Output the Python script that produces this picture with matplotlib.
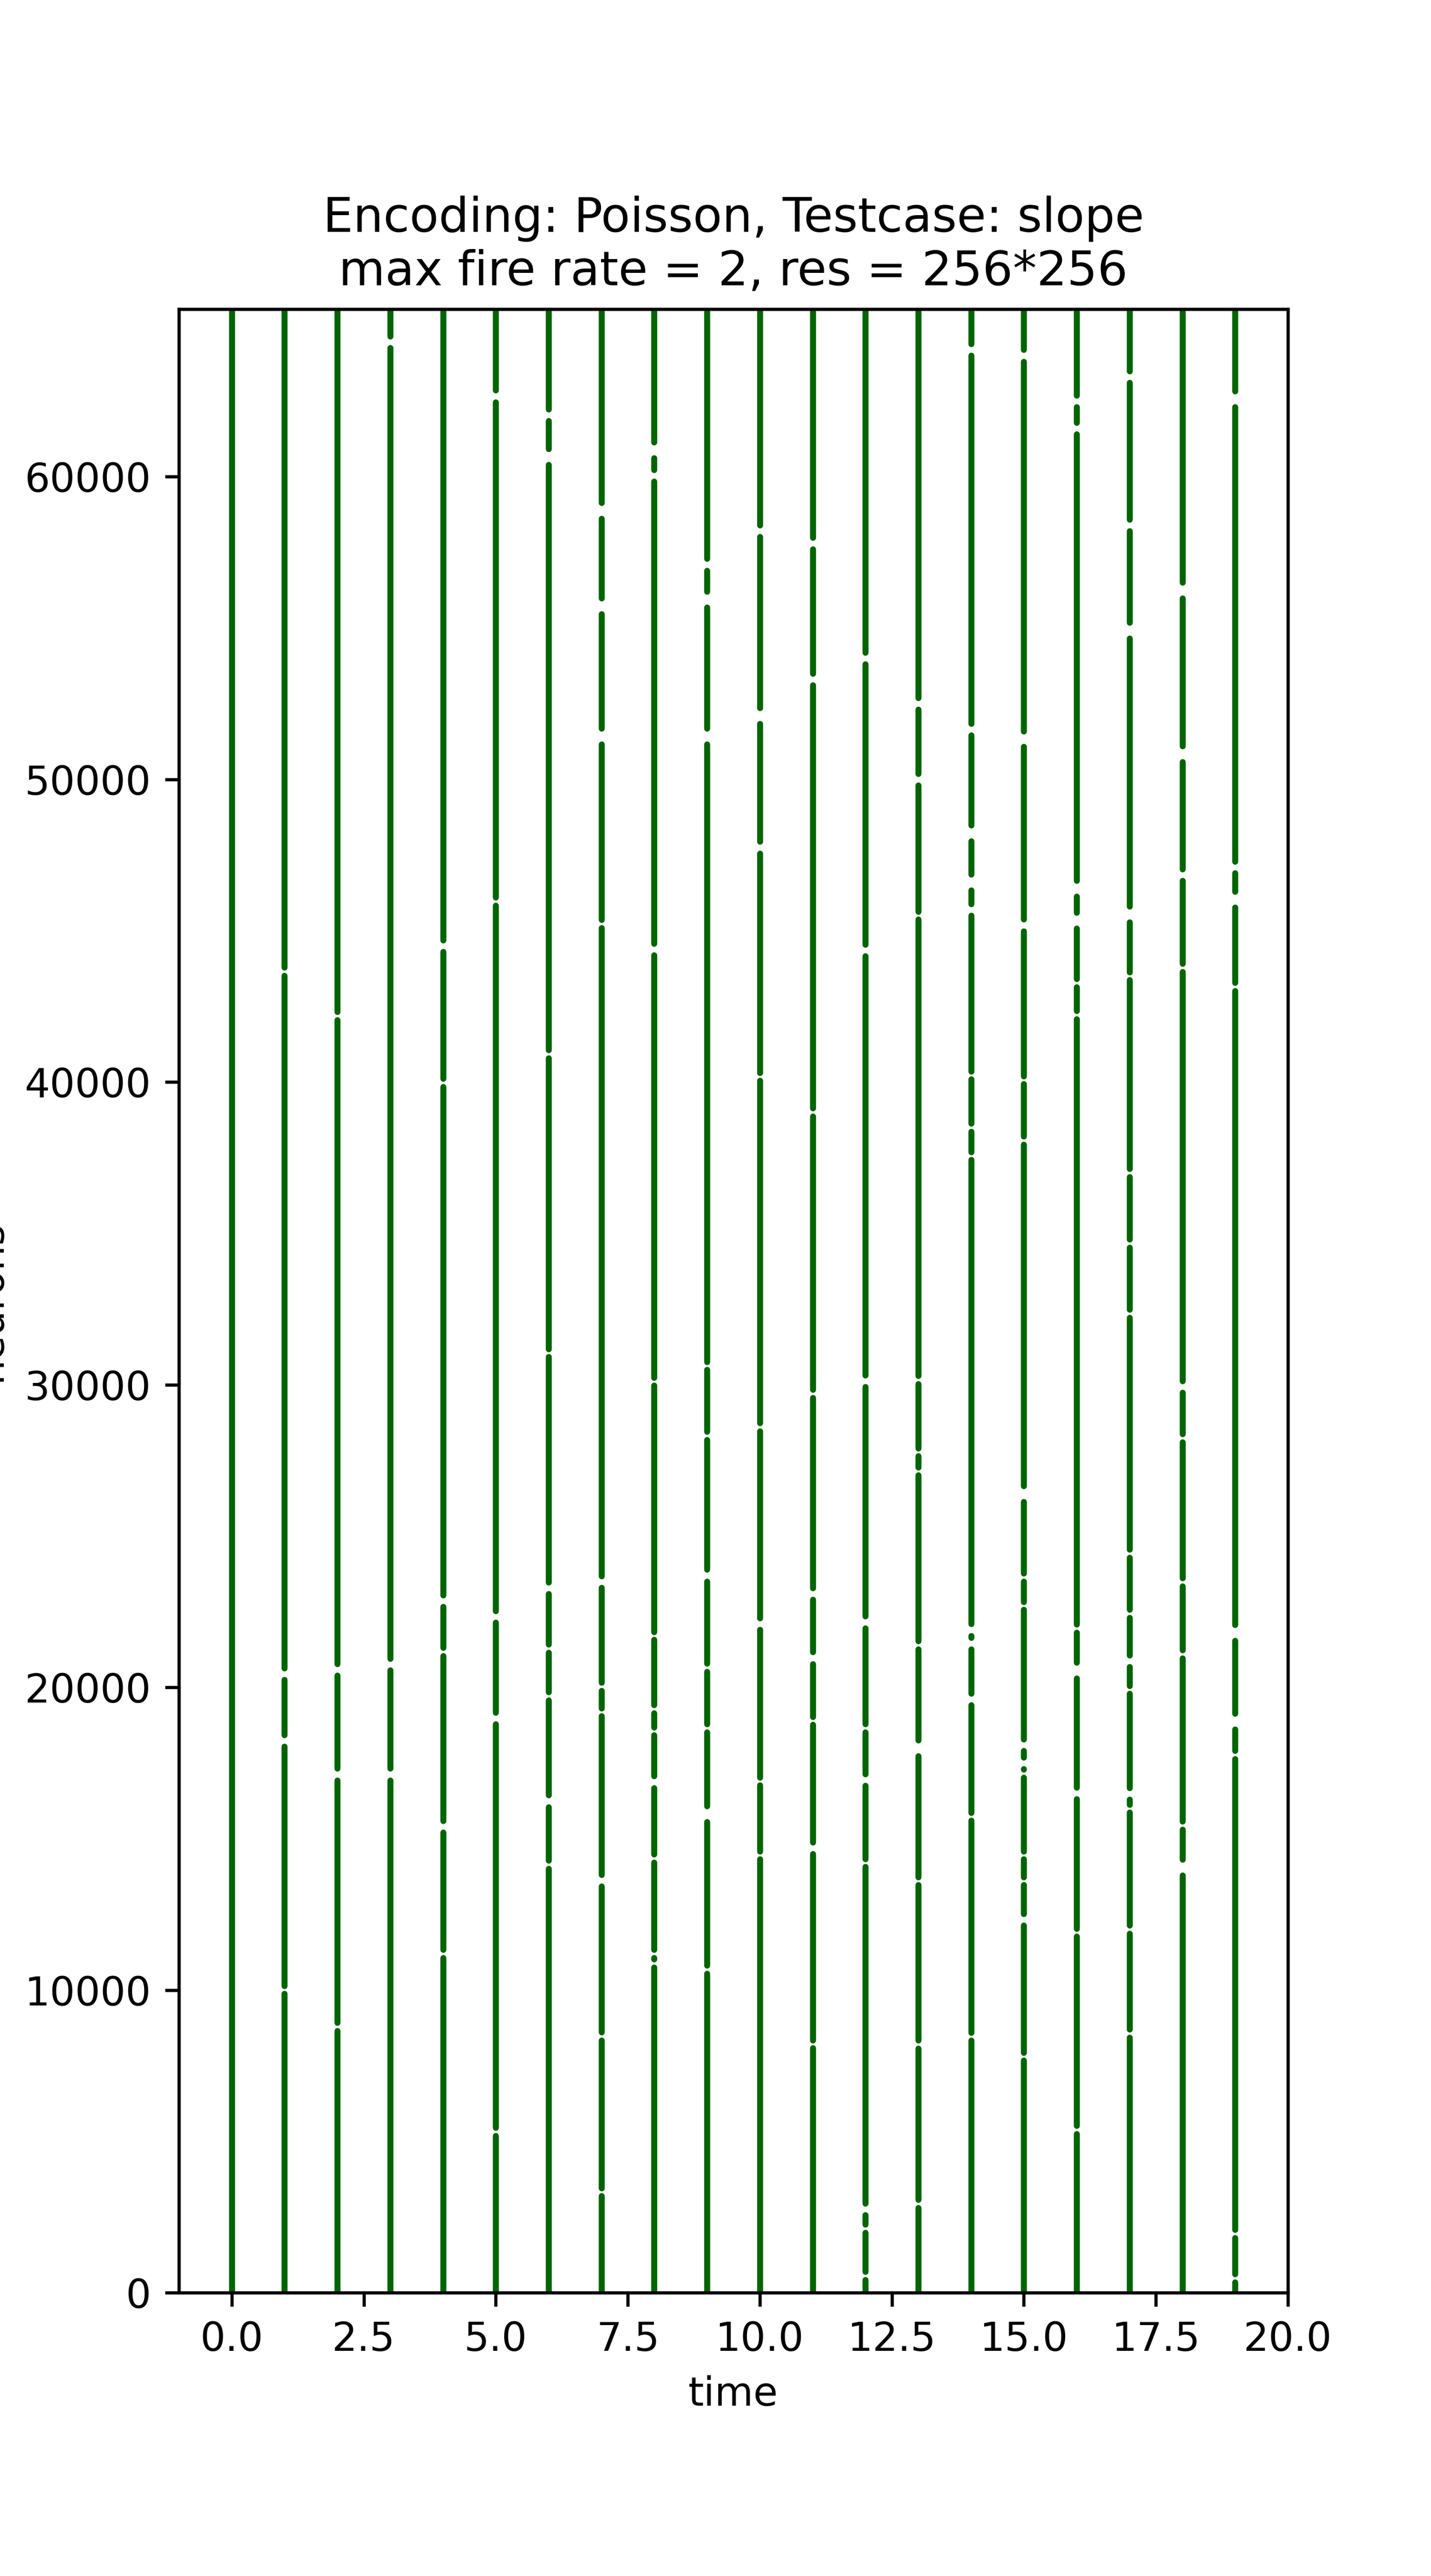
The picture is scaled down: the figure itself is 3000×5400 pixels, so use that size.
import numpy as np
from matplotlib import pyplot as plt

n_neurons = 256 * 256
times = [0, 1, 2, 3, 4, 5, 6, 7, 8, 9, 10, 11, 12, 13, 14, 15, 16, 17, 18, 19]

# silent stretches in each time step: (centre neuron, width in neurons)
S, M, L = 260, 380, 520
gaps = {
    0: [],
    1: [(43655, S), (20442, M), (18237, M), (10005, S)],
    2: [(42185, S), (20590, M), (17124, M), (8787, S)],
    3: [(64445, M), (20757, M), (17124, M)],
    4: [(44495, M), (39980, S), (22857, M), (21177, S), (15402, M), (11202, S)],
    5: [(62660, M), (45965, S), (22332, M), (18972, M), (5322, S)],
    6: [(62030, M), (60665, L), (40925, S), (31047, S), (23277, M), (21282, S),
        (19707, S), (16242, M), (14142, S)],
    7: [(58880, L), (55730, L), (51425, L), (45230, S), (23487, M), (20022, S),
        (19182, S), (13617, M), (8472, S), (3327, S)],
    8: [(60875, L), (60035, M), (44390, M), (30102, S), (21702, S), (19287, S),
        (18552, S), (16872, M), (14352, S), (11202, S), (10887, S)],
    9: [(57095, M), (55940, L), (51425, L), (30627, S), (28317, S), (23697, M),
        (20652, S), (18657, S), (15822, L), (10677, S)],
    10: [(58200, M), (52100, L), (47750, M), (40176, S), (28600, S), (22100, M),
         (16900, S), (14450, S)],
    11: [(57800, M), (53300, M), (39000, S), (29700, S), (23090, M), (20970, M),
         (18900, S), (14685, M), (8210, S)],
    12: [(54000, M), (44357, M), (30115, M), (22152, M), (18650, S), (16950, M),
         (14200, S), (2760, M), (2120, S), (560, S)],
    13: [(52500, M), (50000, M), (45500, S), (30160, S), (27770, S), (27140, S),
         (21400, S), (17993, L), (13600, S), (8200, S), (2940, S)],
    14: [(64200, M), (51650, M), (48223, L), (46600, L), (45690, M), (40220, S),
         (38500, S), (37560, S), (21900, M), (21450, M), (19612, M), (15730, S),
         (8460, S)],
    15: [(64000, M), (51335, L), (45180, M), (40064, S), (38070, S), (26385, L),
         (23636, S), (22700, S), (18100, M), (17500, M), (17157, S), (14450, S),
         (13600, S), (12330, M), (7800, S)],
    16: [(62500, M), (61600, M), (46400, L), (45330, L), (43270, S), (42220, S),
         (21950, S), (20553, L), (16500, M), (11900, S), (5380, S)],
    17: [(63300, M), (58400, M), (54920, L), (45540, L), (43500, S), (37000, S),
         (34670, S), (32350, S), (24420, S), (22440, S), (20867, M), (19920, S),
         (16490, M), (16000, S), (12000, S), (8570, S)],
    18: [(56250, L), (50845, L), (46840, M), (43780, S), (29937, M), (28240, S),
         (23480, S), (21100, S), (15440, S), (14050, L)],
    19: [(62570, L), (47100, M), (46030, L), (43150, S), (21800, L), (18880, L),
         (17770, S), (1950, S), (480, S)],
}

fig = plt.figure(figsize=(5, 9), dpi=600)
ax = plt.axes()

# turn the silent stretches into runs of firing neurons
run_x, run_lo, run_hi = [], [], []
for t in times:
    start = 0
    for c, w in sorted(gaps[t]):
        run_x.append(t); run_lo.append(start); run_hi.append(c - w / 2)
        start = c + w / 2
    run_x.append(t); run_lo.append(start); run_hi.append(n_neurons - 1)

lc = ax.vlines(run_x, run_lo, run_hi, colors='darkgreen', linewidth=1.5)
lc.set_capstyle('round')

ax.set_xlim(-1, 20)
ax.set_ylim(0, n_neurons)
ax.set_xlabel('time')
ax.set_ylabel('neurons')
ax.set_title('Encoding: Poisson, Testcase: slope\nmax fire rate = 2, res = 256*256')
plt.savefig('out.png', dpi=600)
